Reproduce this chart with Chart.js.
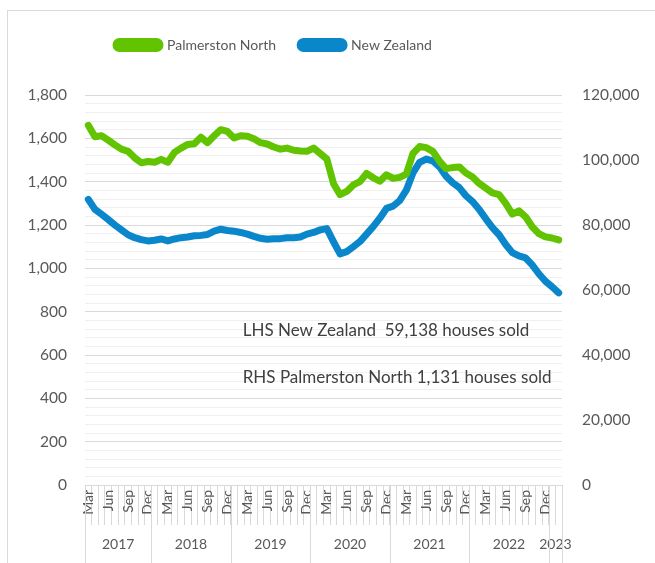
<!DOCTYPE html>
<html>
<head>
<meta charset="utf-8">
<script src="https://cdn.jsdelivr.net/npm/chart.js@4/dist/chart.umd.min.js"></script>
<style>
  body { margin: 0; background: #fff; overflow: hidden; }
  #frame { position: absolute; left: 7px; top: 10px; width: 700px; height: 600px; border: 1px solid #d9d9d9; }
  #chart { position: absolute; left: 0; top: 0; }
</style>
</head>
<body>
<div id="frame"></div>
<canvas id="chart" width="655" height="563"></canvas>
<script>
// monthly sales, Mar 2017 - Feb 2023
const monthNames = ['Jan', 'Feb', 'Mar', 'Apr', 'May', 'Jun', 'Jul', 'Aug', 'Sep', 'Oct', 'Nov', 'Dec'];
const palmerstonNorth = [
  1660, 1607, 1612, 1592, 1570, 1550, 1540, 1510, 1487, 1493, 1490, 1503,
  1490, 1535, 1555, 1572, 1575, 1605, 1580, 1612, 1640, 1632, 1602, 1612,
  1610, 1598, 1580, 1574, 1560, 1550, 1555, 1545, 1542, 1540, 1555, 1530,
  1505, 1392, 1340, 1355, 1385, 1400, 1438, 1418, 1402, 1432, 1415, 1420,
  1435, 1530, 1562, 1557, 1540, 1495, 1460, 1465, 1468, 1440, 1422, 1392,
  1370, 1348, 1340, 1300, 1250, 1265, 1238, 1192, 1160, 1145, 1140, 1131
];
const newZealand = [
  87900, 84800, 83300, 81700, 80000, 78500, 77000, 76100, 75500, 75100, 75300, 75700,
  75100, 75700, 76100, 76300, 76700, 76800, 77100, 78100, 78700, 78300, 78100, 77700,
  77200, 76500, 75900, 75600, 75800, 75800, 76100, 76100, 76300, 77200, 77700, 78500,
  78900, 74900, 71100, 71800, 73300, 74900, 77200, 79500, 82100, 85100, 85800, 87500,
  90700, 96000, 99300, 100300, 99700, 97900, 95000, 93000, 91500, 89000, 87200, 84800,
  81900, 79200, 77000, 74000, 71500, 70500, 69900, 67700, 65000, 62700, 61000, 59138
];
const yearLabels = ['2017', '2018', '2019', '2020', '2021', '2022', '2023'];
const yearCenters = [4.5, 15.5, 27.5, 39.5, 51.5, 63.5, 70.5];
const yearEdges = [-0.5, 9.5, 21.5, 33.5, 45.5, 57.5, 69.5, 71.5];
const noteLines = ['LHS New Zealand  59,138 houses sold', 'RHS Palmerston North 1,131 houses sold'];

const categories = [];
for (let i = 0; i < palmerstonNorth.length; i++) {
  const m = (2 + i) % 12;
  const y = 2017 + Math.floor((2 + i) / 12);
  categories.push(monthNames[m] + ' ' + y);
}

const GREEN = '#62c400';
const BLUE = '#0a87ca';
const TEXT = '#595959';

Chart.defaults.font.family = 'Lato';
Chart.defaults.color = TEXT;

// legend sits left of centre and well above the plot in the original
const legendSpot = {
  id: 'legendSpot',
  afterLayout(chart) {
    const lg = chart.legend;
    const pad = lg.options.labels.padding;
    const dx = 116 - (lg.left + pad);
    const dy = 45 - (lg.top + pad + 7);
    lg.left += dx;
    lg.right += dx;
    lg.top += dy;
    lg.bottom += dy;
  }
};

// vertical separators between the year groups
const yearLines = {
  id: 'yearLines',
  afterDraw(chart) {
    const { ctx, scales } = chart;
    ctx.save();
    ctx.strokeStyle = '#d9d9d9';
    ctx.lineWidth = 1;
    yearEdges.forEach(v => {
      const px = Math.round(scales.x2.getPixelForValue(v)) + 0.5;
      ctx.beginPath();
      ctx.moveTo(px, scales.x.top);
      ctx.lineTo(px, chart.height);
      ctx.stroke();
    });
    ctx.restore();
  }
};

// the two text boxes inside the plot
const notes = {
  id: 'notes',
  afterDatasetsDraw(chart) {
    const { ctx, scales } = chart;
    ctx.save();
    ctx.font = '17px Lato';
    ctx.fillStyle = '#404040';
    ctx.textBaseline = 'middle';
    ctx.fillText(noteLines[0], scales.x2.getPixelForValue(23.3), scales.yL.getPixelForValue(711));
    ctx.fillText(noteLines[1], scales.x2.getPixelForValue(23.3), scales.yL.getPixelForValue(494));
    ctx.restore();
  }
};

new Chart(document.getElementById('chart'), {
  type: 'line',
  data: {
    labels: categories,
    datasets: [{
      label: 'Palmerston North',
      data: palmerstonNorth,
      yAxisID: 'yL',
      borderColor: GREEN,
      backgroundColor: GREEN,
      borderWidth: 7,
      pointRadius: 0,
      borderJoinStyle: 'round',
      borderCapStyle: 'round'
    }, {
      label: 'New Zealand',
      data: newZealand,
      yAxisID: 'yR',
      borderColor: BLUE,
      backgroundColor: BLUE,
      borderWidth: 7,
      pointRadius: 0,
      borderJoinStyle: 'round',
      borderCapStyle: 'round'
    }]
  },
  options: {
    responsive: false,
    animation: false,
    layout: { padding: { left: 0, top: 0, right: 0, bottom: 0 } },
    plugins: {
      legend: {
        align: 'start',
        labels: {
          boxWidth: 44,
          boxHeight: 7,
          padding: 24,
          useBorderRadius: true,
          borderRadius: 3.5,
          color: TEXT,
          font: { size: 14 }
        }
      },
      tooltip: { enabled: false }
    },
    scales: {
      x: {
        type: 'category',
        position: 'bottom',
        weight: 0,
        offset: true,
        grid: { offset: true, drawOnChartArea: false, drawTicks: true, tickLength: 40, color: '#d9d9d9' },
        border: { display: true, color: '#d9d9d9' },
        ticks: {
          autoSkip: false,
          minRotation: 90,
          maxRotation: 90,
          padding: -35,
          font: { size: 14 },
          callback: (v, i) => i % 3 === 0 ? monthNames[(2 + i) % 12] : ''
        },
        afterFit: s => { s.height = 40; }
      },
      x2: {
        type: 'linear',
        position: 'bottom',
        weight: 1,
        min: -0.5,
        max: 71.5,
        grid: { display: false, drawTicks: false },
        border: { display: false },
        afterBuildTicks: s => { s.ticks = yearCenters.map(v => ({ value: v })); },
        ticks: {
          autoSkip: false,
          maxRotation: 0,
          padding: 11,
          font: { size: 14 },
          callback: v => yearLabels[yearCenters.indexOf(v)]
        },
        afterFit: s => { s.height = 38; }
      },
      yL: {
        type: 'linear',
        position: 'left',
        min: 0,
        max: 1800,
        grid: {
          drawTicks: false,
          color: c => c.tick.value % 200 === 0 ? '#d9d9d9' : '#f0f0f0'
        },
        border: { display: false },
        ticks: {
          stepSize: 40,
          autoSkip: false,
          maxTicksLimit: 100,
          padding: 18,
          font: { size: 15.5 },
          callback: v => v % 200 === 0 ? v.toLocaleString('en-US') : ''
        },
        // plot area starts lower than the legend's own bottom
        afterFit: s => { s.width = 85; s.paddingTop = 95; }
      },
      yR: {
        type: 'linear',
        position: 'right',
        min: 0,
        max: 120000,
        grid: { drawOnChartArea: false, drawTicks: false },
        border: { display: false },
        ticks: {
          stepSize: 20000,
          padding: 20,
          font: { size: 15.5 },
          callback: v => v.toLocaleString('en-US')
        },
        afterFit: s => { s.width = 93; }
      }
    }
  },
  plugins: [legendSpot, yearLines, notes]
});
</script>
</body>
</html>
